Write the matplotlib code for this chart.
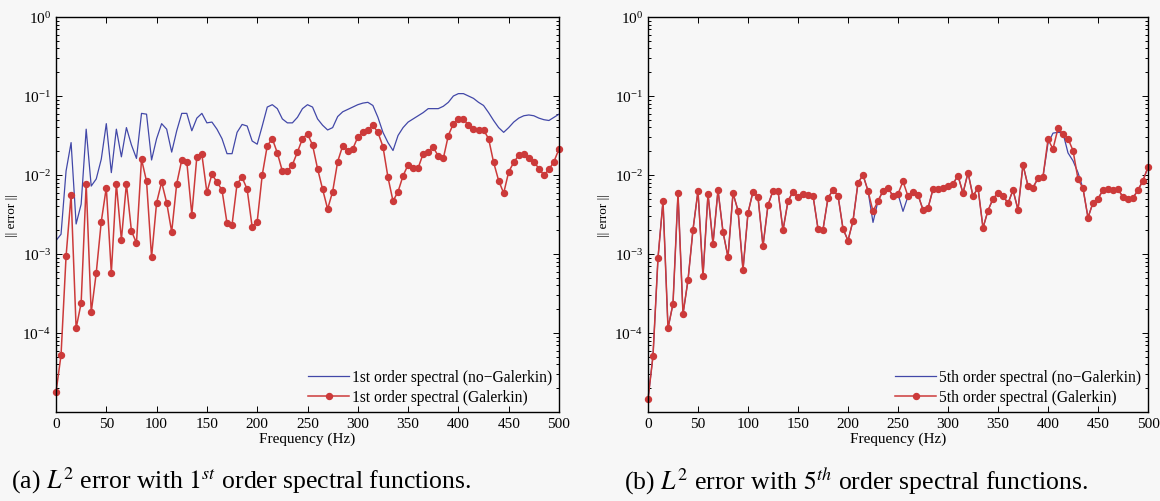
import numpy as np
import matplotlib
matplotlib.use("Agg")
import matplotlib.pyplot as plt
from matplotlib.ticker import LogLocator, NullFormatter

plt.rcParams['font.family'] = ['Liberation Serif', 'DejaVu Serif']
plt.rcParams['mathtext.fontset'] = 'stix'

# frequency grid (Hz), one sample every 5 Hz
freq = np.arange(0, 501, 5)

# log10 of the L2 error, 1st order spectral functions
log_err_1st_nogal = [
    -2.83, -2.75, -1.95, -1.59, -2.62, -2.37, -1.42, -2.14, -2.05, -1.80,
    -1.35, -1.97, -1.42, -1.77, -1.40, -1.62, -1.79, -1.22, -1.23, -1.81,
    -1.54, -1.35, -1.42, -1.71, -1.44, -1.22, -1.22, -1.44, -1.28, -1.22,
    -1.34, -1.33, -1.42, -1.54, -1.73, -1.73, -1.46, -1.36, -1.38, -1.57,
    -1.61, -1.38, -1.14, -1.11, -1.16, -1.29, -1.34, -1.34, -1.27, -1.16,
    -1.11, -1.14, -1.29, -1.37, -1.43, -1.40, -1.26, -1.20, -1.17, -1.14,
    -1.11, -1.09, -1.08, -1.12, -1.27, -1.46, -1.59, -1.69, -1.50, -1.40,
    -1.33, -1.29, -1.25, -1.21, -1.16, -1.16, -1.16, -1.13, -1.08, -1.00,
    -0.97, -0.97, -1.00, -1.03, -1.08, -1.12, -1.21, -1.31, -1.40, -1.46,
    -1.40, -1.33, -1.28, -1.25, -1.24, -1.25, -1.28, -1.30, -1.31, -1.27,
    -1.23]
log_err_1st_gal = [
    -4.75, -4.28, -3.03, -2.25, -3.94, -3.62, -2.11, -3.74, -3.24, -2.59,
    -2.16, -3.24, -2.11, -2.82, -2.11, -2.71, -2.86, -1.80, -2.08, -3.04,
    -2.35, -2.09, -2.35, -2.72, -2.11, -1.81, -1.83, -2.50, -1.77, -1.74,
    -2.22, -1.99, -2.09, -2.19, -2.61, -2.63, -2.11, -2.03, -2.18, -2.66,
    -2.59, -2.00, -1.63, -1.54, -1.72, -1.95, -1.95, -1.87, -1.71, -1.54,
    -1.48, -1.62, -1.92, -2.18, -2.43, -2.21, -1.83, -1.63, -1.69, -1.67,
    -1.52, -1.46, -1.43, -1.37, -1.46, -1.64, -2.03, -2.33, -2.21, -2.01,
    -1.87, -1.91, -1.91, -1.73, -1.71, -1.65, -1.76, -1.79, -1.50, -1.35,
    -1.29, -1.29, -1.37, -1.42, -1.43, -1.43, -1.54, -1.84, -2.07, -2.23,
    -1.96, -1.84, -1.75, -1.73, -1.78, -1.83, -1.92, -2.00, -1.93, -1.83,
    -1.67]

# log10 of the L2 error, 5th order spectral functions
log_err_5th_gal = [
    -4.84, -4.29, -3.05, -2.33, -3.94, -3.63, -2.23, -3.76, -3.33, -2.69,
    -2.20, -3.28, -2.24, -2.87, -2.19, -2.72, -3.04, -2.23, -2.45, -3.20,
    -2.48, -2.21, -2.28, -2.90, -2.38, -2.20, -2.20, -2.70, -2.33, -2.21,
    -2.28, -2.24, -2.25, -2.26, -2.68, -2.69, -2.29, -2.19, -2.26, -2.68,
    -2.83, -2.58, -2.10, -2.00, -2.20, -2.46, -2.33, -2.20, -2.16, -2.27,
    -2.24, -2.08, -2.27, -2.22, -2.25, -2.44, -2.42, -2.18, -2.18, -2.17,
    -2.14, -2.11, -2.01, -2.23, -1.97, -2.27, -2.16, -2.67, -2.45, -2.30,
    -2.23, -2.26, -2.36, -2.19, -2.44, -1.87, -2.14, -2.16, -2.04, -2.02,
    -1.55, -1.67, -1.41, -1.48, -1.54, -1.69, -2.05, -2.17, -2.54, -2.35,
    -2.30, -2.19, -2.18, -2.19, -2.18, -2.28, -2.30, -2.29, -2.19, -2.07,
    -1.90]
log_err_5th_nogal = [
    -4.84, -4.29, -3.05, -2.33, -3.94, -3.63, -2.23, -3.76, -3.33, -2.69,
    -2.20, -3.28, -2.24, -2.87, -2.19, -2.72, -3.04, -2.23, -2.45, -3.20,
    -2.48, -2.21, -2.28, -2.90, -2.38, -2.20, -2.20, -2.70, -2.33, -2.21,
    -2.28, -2.24, -2.25, -2.26, -2.68, -2.69, -2.29, -2.19, -2.26, -2.68,
    -2.83, -2.58, -2.10, -2.00, -2.20, -2.60, -2.33, -2.20, -2.16, -2.27,
    -2.24, -2.46, -2.27, -2.22, -2.25, -2.44, -2.42, -2.18, -2.18, -2.17,
    -2.16, -2.11, -2.01, -2.23, -1.97, -2.27, -2.16, -2.67, -2.45, -2.30,
    -2.23, -2.26, -2.36, -2.19, -2.44, -1.87, -2.14, -2.16, -2.04, -2.02,
    -1.60, -1.47, -1.46, -1.47, -1.72, -1.82, -1.97, -2.17, -2.54, -2.35,
    -2.30, -2.19, -2.18, -2.19, -2.18, -2.28, -2.30, -2.29, -2.19, -2.07,
    -1.90]

panels = [
    (log_err_1st_nogal, log_err_1st_gal, '1st',
     r'(a) $L^2$ error with $1^{st}$ order spectral functions.'),
    (log_err_5th_nogal, log_err_5th_gal, '5th',
     r'(b) $L^2$ error with $5^{th}$ order spectral functions.'),
]

bg = '#f7f7f7'
blue = '#4248a8'
red = '#cc3a3a'

W, H = 1160, 502
fig = plt.figure(figsize=(W / 100, H / 100), dpi=100, facecolor=bg)

# axes boxes in pixels: left, top, right, bottom
boxes = [(56, 18, 559, 413), (648, 18, 1148, 413)]
caption_x = [241, 856]

for (nogal, gal, order, caption), (l, t, r, b), cx in zip(panels, boxes, caption_x):
    ax = fig.add_axes([l / W, 1 - b / H, (r - l) / W, (b - t) / H])
    ax.set_facecolor(bg)
    ax.plot(freq, 10.0 ** np.array(nogal), color=blue, lw=0.9,
            label=order + ' order spectral (no\u2212Galerkin)')
    ax.plot(freq, 10.0 ** np.array(gal), color=red, lw=1.1, marker='o',
            ms=4.3, mfc=red, mec=red, clip_on=False,
            label=order + ' order spectral (Galerkin)')
    ax.set_yscale('log')
    ax.set_xlim(0, 500)
    ax.set_ylim(1e-5, 1)
    ax.set_xticks(np.arange(0, 501, 50))
    ax.set_yticks([1e-4, 1e-3, 1e-2, 1e-1, 1])
    ax.yaxis.set_minor_locator(LogLocator(base=10, subs=np.arange(2, 10)))
    ax.yaxis.set_minor_formatter(NullFormatter())
    ax.tick_params(which='both', direction='in', top=True, right=True,
                   labelsize=11, width=0.7, colors='black')
    ax.tick_params(which='major', length=4)
    ax.tick_params(which='minor', length=2)
    for s in ax.spines.values():
        s.set_linewidth(1.0)
    ax.set_xlabel('Frequency (Hz)', fontsize=11, labelpad=1.5)
    ax.set_ylabel('|| error ||', fontsize=9.5, labelpad=3)
    ax.legend(loc='lower right', frameon=False, fontsize=11.2,
              handlelength=2.6, handletextpad=0.2, labelspacing=0.25,
              borderaxespad=0.05)
    fig.text(cx / W, 1 - 481 / H, caption, ha='center', va='center',
             fontsize=18.5)

fig.savefig('out.png', dpi=100, facecolor=bg)
